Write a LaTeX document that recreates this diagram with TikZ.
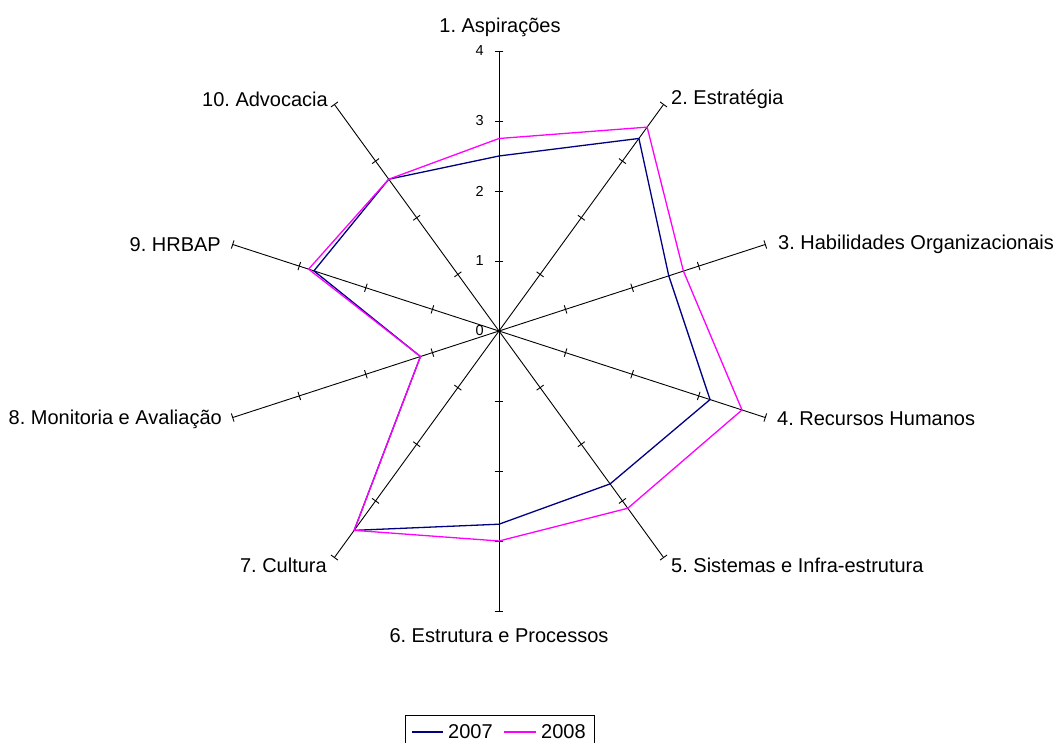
\documentclass[tikz,border=0pt]{standalone}
\usepackage{fontspec}
\setmainfont{Liberation Sans}
\usetikzlibrary{calc}
\definecolor{serA}{RGB}{0,0,128}
\definecolor{serB}{RGB}{255,0,255}
\tikzset{
  axisline/.style={black, line width=0.9pt},
  tickmark/.style={black, line width=0.9pt},
  serieA/.style={serA, line width=1.3pt, line join=miter},
  serieB/.style={serB, line width=1.3pt, line join=miter},
  axlabel/.style={inner sep=0pt, font=\fontsize{20}{24}\selectfont},
  ticklabel/.style={inner sep=0pt, anchor=east, font=\fontsize{14.5}{17}\selectfont},
  legendtext/.style={inner sep=0pt, anchor=west, font=\fontsize{20}{24}\selectfont}
}
\begin{document}
\frenchspacing
\begin{tikzpicture}[x=1pt,y=1pt]
\useasboundingbox (-499,-411) rectangle (558,331);
\coordinate (O) at (0,0);
% axes and ticks
\foreach \i in {1,...,10}{
  \pgfmathsetmacro{\a}{90-36*(\i-1)}
  \coordinate (e\i) at (\a:280pt);
  \draw[axisline] (O) -- (e\i);
  \foreach \k in {1,2,3,4}{
    \draw[tickmark, shift={(\a:\k*70pt)}, rotate=\a] (0,-4.3) -- (0,4.3);
  }
}
% tick labels
\foreach \k in {0,...,4}{
  \node[ticklabel] (t\k) at (-15,\k*70) {\k};
}
% data points
\foreach \v [count=\i] in {2.5,3.4,2.55,3.17,2.7,2.76,3.52,1.18,2.78,2.68}{
  \coordinate (p\i) at ({90-36*(\i-1)}:{\v*70pt});
}
\foreach \v [count=\i] in {2.75,3.6,2.77,3.65,3.13,3.0,3.52,1.18,2.86,2.68}{
  \coordinate (q\i) at ({90-36*(\i-1)}:{\v*70pt});
}
\draw[serieA] (p1) -- (p2) -- (p3) -- (p4) -- (p5) -- (p6) -- (p7) -- (p8) -- (p9) -- (p10) -- cycle;
\draw[serieB] (q1) -- (q2) -- (q3) -- (q4) -- (q5) -- (q6) -- (q7) -- (q8) -- (q9) -- (q10) -- cycle;
% axis labels
\node[axlabel] (l1) at (1,304) {1. Aspirações};
\node[axlabel, anchor=west] (l2) at (172,232) {2. Estratégia};
\node[axlabel, anchor=west] (l3) at (279,87) {3. Habilidades Organizacionais};
\node[axlabel, anchor=west] (l4) at (278,-88) {4. Recursos Humanos};
\node[axlabel, anchor=west] (l5) at (172,-234) {5. Sistemas e Infra-estrutura};
\node[axlabel] (l6) at (0,-305) {6. Estrutura e Processos};
\node[axlabel, anchor=east] (l7) at (-172,-234) {7. Cultura};
\node[axlabel, anchor=east] (l8) at (-277,-88) {8. Monitoria e Avaliação};
\node[axlabel, anchor=east] (l9) at (-278,86) {9. HRBAP};
\node[axlabel, anchor=east] (l10) at (-171,232) {10. Advocacia};
% legend
\draw[black, line width=0.9pt] (-94,-384) rectangle (95,-420);
\coordinate (la1) at (-87,-401);
\coordinate (la2) at (-56,-401);
\coordinate (lb1) at (5,-401);
\coordinate (lb2) at (37,-401);
\draw[serA, line width=1.3pt] (la1) -- (la2);
\draw[serB, line width=1.3pt] (lb1) -- (lb2);
\node[legendtext] (g1) at (-51,-401) {2007};
\node[legendtext] (g2) at (42,-401) {2008};
\end{tikzpicture}
\end{document}
